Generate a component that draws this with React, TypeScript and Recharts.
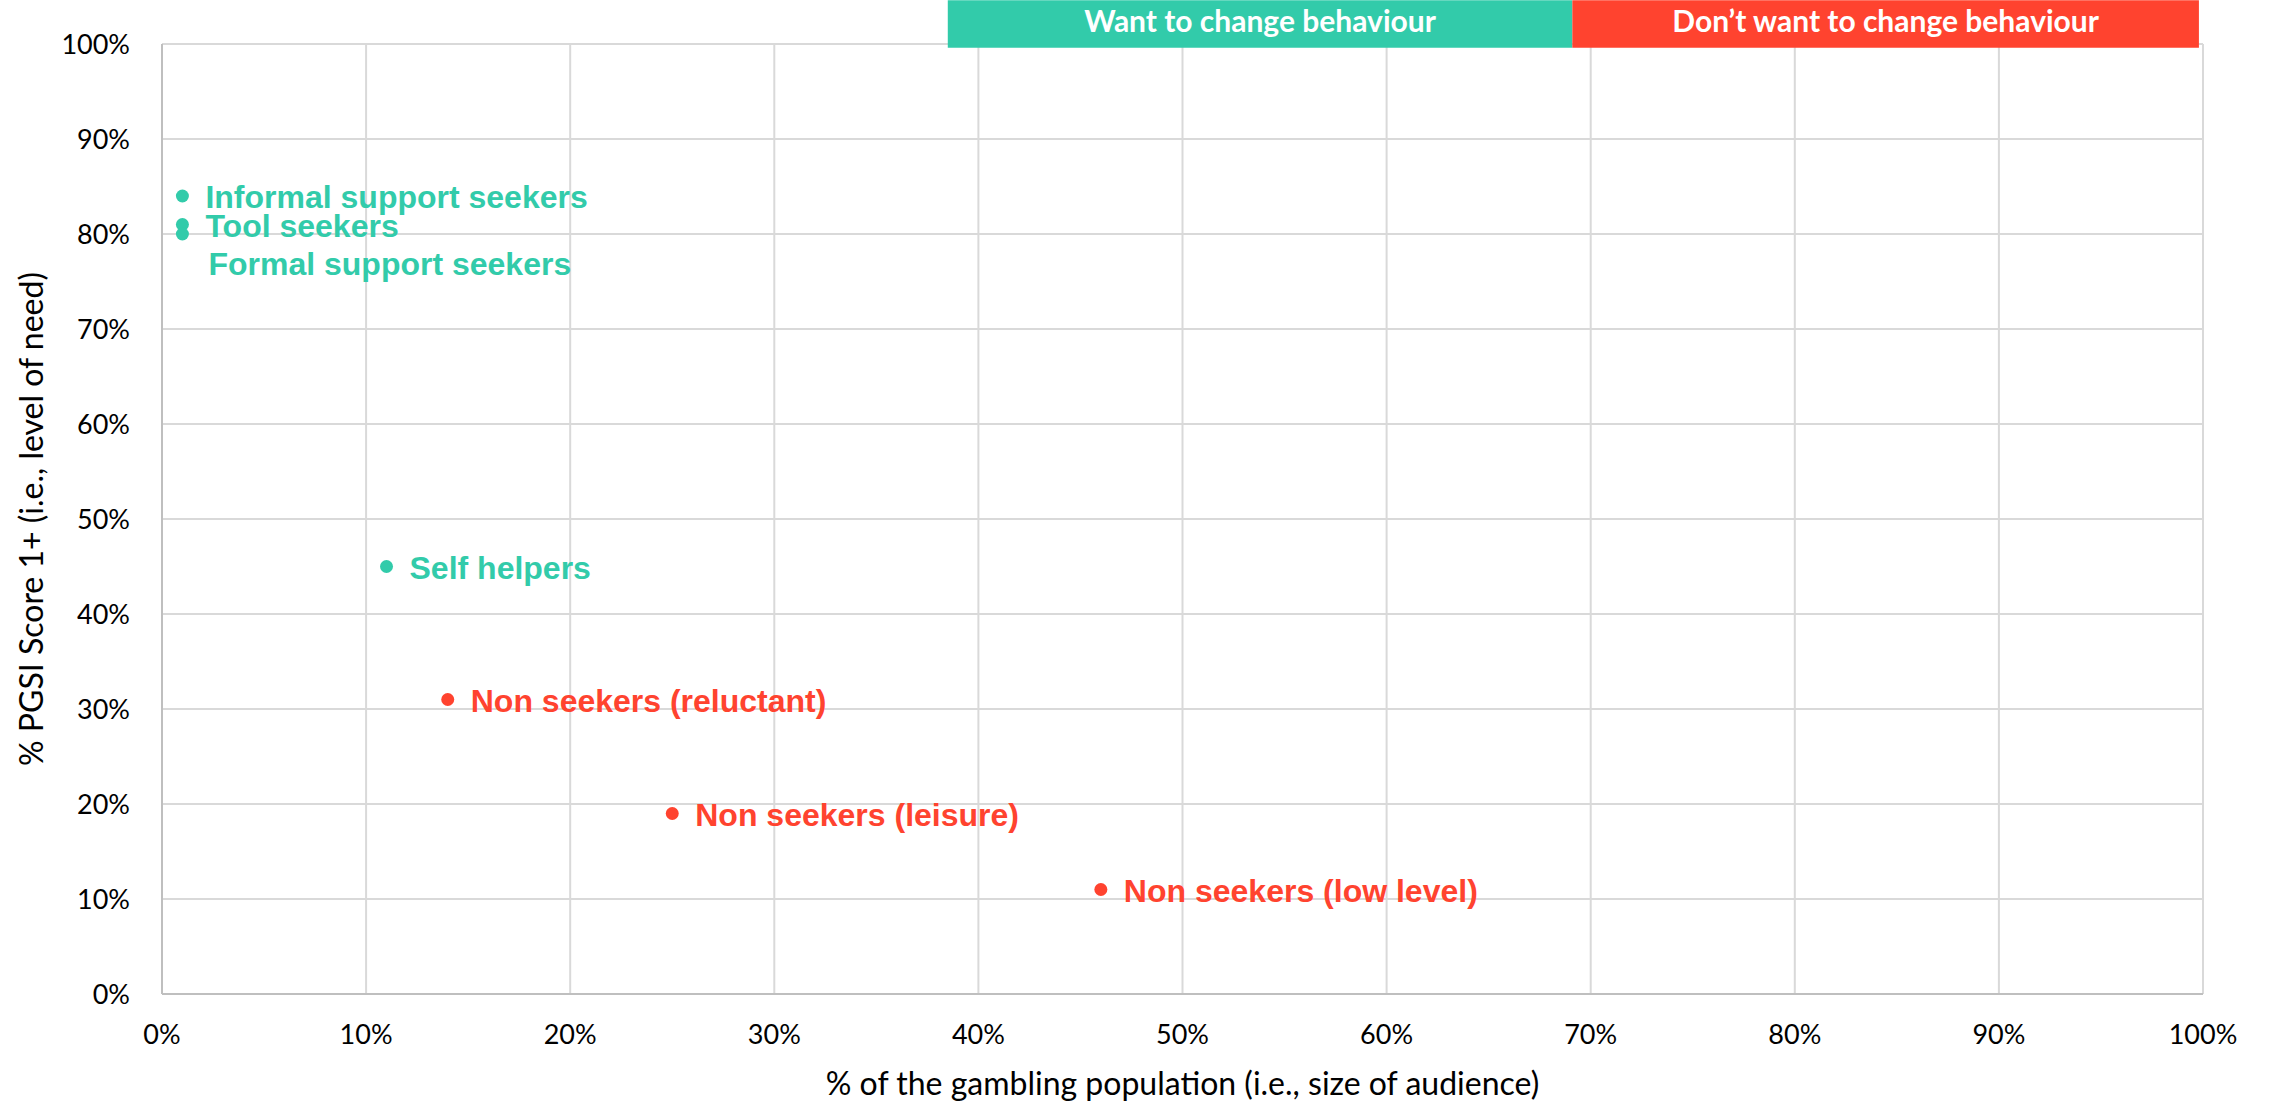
import { ScatterChart, Scatter, XAxis, YAxis, CartesianGrid, ReferenceArea, Label } from 'recharts';

const TEAL = '#32cbaa';
const RED = '#ff432f';

// Segments who want to change behaviour
const wantNames = ['Informal support seekers', 'Tool seekers', 'Formal support seekers', 'Self helpers'];
const wantAudience = [1, 1, 1, 11];
const wantNeed = [84, 81, 80, 45];

// Segments who don't want to change behaviour
const dontNames = ['Non seekers (reluctant)', 'Non seekers (leisure)', 'Non seekers (low level)'];
const dontAudience = [14, 25, 46];
const dontNeed = [31, 19, 11];

const axisTicks = [0, 10, 20, 30, 40, 50, 60, 70, 80, 90, 100];

// header bands along the top of the plot, in x-axis units
const bandLabels = ['Want to change behaviour', 'Don\u2019t want to change behaviour'];
const bandStarts = [38.5, 69.1];
const bandEnds = [69.1, 99.8];
const bandColors = [TEAL, RED];

const wantData = wantNames.map((name, i) => ({ name, x: wantAudience[i], y: wantNeed[i] }));
const dontData = dontNames.map((name, i) => ({ name, x: dontAudience[i], y: dontNeed[i] }));

const makeDot = (color: string) => (props: any) => {
  const { cx, cy, payload } = props;
  // the formal support seekers label sits under the overlapping dots
  const shifted = payload.name === 'Formal support seekers';
  return (
    <g>
      <circle cx={cx} cy={cy} r={6.5} fill={color} />
      <text
        x={cx + (shifted ? 26 : 23)}
        y={cy + (shifted ? 30 : 1)}
        dominantBaseline="central"
        fill={color}
        fontFamily="'Liberation Sans', Arial, sans-serif"
        fontWeight={700}
        fontSize={32}
      >
        {payload.name}
      </text>
    </g>
  );
};

export default function App() {
  return (
    <div style={{ width: 2270, height: 1103, background: '#fff' }}>
      <style>{'body{margin:0}'}</style>
      <ScatterChart
        width={2270}
        height={1103}
        margin={{ top: 44, right: 67, bottom: 0, left: 0 }}
        style={{ fontFamily: 'Lato, sans-serif' }}
      >
        <CartesianGrid stroke="#d9d9d9" strokeWidth={2} />
        <XAxis
          type="number"
          dataKey="x"
          domain={[0, 100]}
          ticks={axisTicks}
          tickFormatter={(v) => `${v}%`}
          height={109}
          tickSize={0}
          tickMargin={31}
          tick={{ fill: '#000', fontSize: 27 }}
          axisLine={{ stroke: '#bfbfbf', strokeWidth: 2 }}
          interval={0}
        >
          <Label
            value="% of the gambling population (i.e., size of audience)"
            position="center"
            dy={35}
            fill="#000"
            fontSize={32}
          />
        </XAxis>
        <YAxis
          type="number"
          dataKey="y"
          domain={[0, 100]}
          ticks={axisTicks}
          tickFormatter={(v) => `${v}%`}
          width={162}
          tickSize={0}
          tickMargin={32}
          tick={{ fill: '#000', fontSize: 27 }}
          axisLine={{ stroke: '#bfbfbf', strokeWidth: 2 }}
          interval={0}
        >
          <Label
            value="% PGSI Score 1+ (i.e., level of need)"
            position="center"
            angle={-90}
            dx={-49}
            fill="#000"
            fontSize={32}
          />
        </YAxis>
        {bandLabels.map((label, i) => (
          <ReferenceArea
            key={label}
            x1={bandStarts[i]}
            x2={bandEnds[i]}
            y1={99.6}
            y2={104.6}
            ifOverflow="visible"
            fill={bandColors[i]}
            fillOpacity={1}
            stroke="none"
            label={{
              value: label,
              position: 'center',
              fill: '#fff',
              fontSize: 30,
              fontWeight: 700,
              fontFamily: 'Lato, sans-serif',
              dy: -3,
            }}
          />
        ))}
        <Scatter data={wantData} fill={TEAL} shape={makeDot(TEAL)} isAnimationActive={false} />
        <Scatter data={dontData} fill={RED} shape={makeDot(RED)} isAnimationActive={false} />
      </ScatterChart>
    </div>
  );
}
